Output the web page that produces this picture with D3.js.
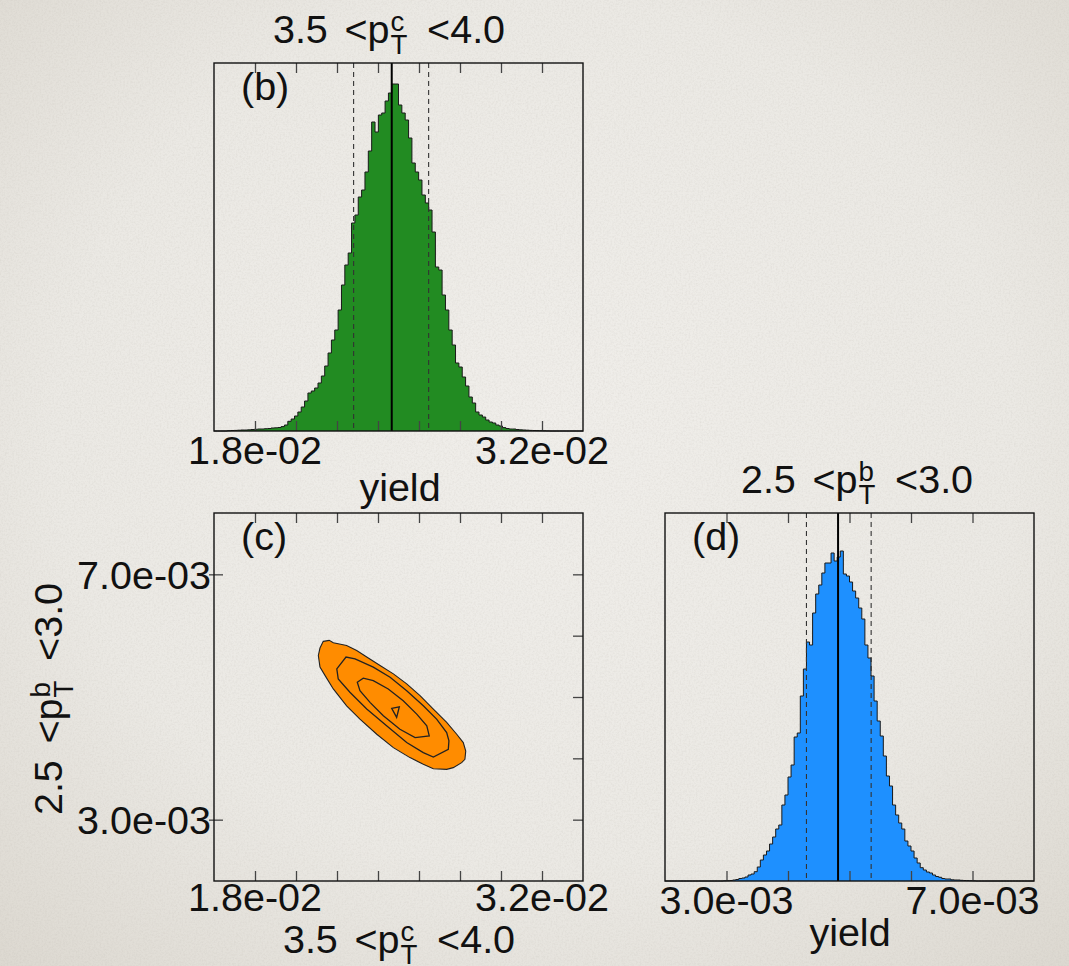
<!DOCTYPE html>
<html>
<head>
<meta charset="utf-8">
<script src="https://cdn.jsdelivr.net/npm/d3@7"></script>
<style>
  html, body { margin: 0; padding: 0; background: #eceae5; }
  svg { display: block; }
  text { font-family: "Liberation Sans", Arial, Helvetica, sans-serif; fill: #111; }
</style>
</head>
<body>
<svg id="fig" width="1069" height="966"></svg>
<script>
// ---- Posterior samples, charm yield 3.5 < pT < 4.0 (110 bins) ----
const charmRange = [0.016, 0.034];
const charmCounts = [
  0, 0, 0, 0, 3, 5, 6, 8, 10, 10,
  12, 15, 17, 20, 20, 23, 25, 30, 32, 35,
  44, 60, 97, 120, 150, 190, 240, 300, 380, 400,
  430, 480, 550, 650, 780, 910, 1010, 1210, 1460, 1660,
  1780, 2080, 2160, 2340, 2410, 2590, 2800, 3090, 2990, 3160,
  3180, 3300, 3380, 3470, 3470, 3260, 3180, 3110, 2930, 2680,
  2590, 2510, 2360, 2280, 2210, 1990, 1640, 1610, 1360, 1210,
  1010, 860, 680, 640, 540, 450, 340, 280, 190, 160,
  140, 110, 90, 80, 60, 50, 34, 25, 20, 20,
  15, 12, 10, 8, 6, 5, 4, 3, 2, 1,
  0, 0, 0, 0, 0, 0, 0, 0, 0, 0
];
const charmMedian = 0.02467;
const charmBand = [0.02281, 0.02647];
const charmTicks = [0.018, 0.020, 0.022, 0.024, 0.026, 0.028, 0.030, 0.032];
const charmLabels = [0.018, 0.032];

// ---- Posterior samples, bottom yield 2.5 < pT < 3.0 (120 bins) ----
const bottomRange = [0.002, 0.008];
const bottomCounts = [
  0, 0, 0, 0, 0, 0, 0, 0, 0, 0,
  0, 0, 0, 0, 0, 0, 0, 0, 0, 2,
  3, 5, 10, 15, 25, 30, 40, 60, 70, 93,
  140, 210, 260, 300, 370, 440, 520, 560, 760, 860,
  1040, 1160, 1440, 1480, 1850, 2120, 2390, 2360, 2680, 2870,
  2960, 3080, 3180, 3180, 3280, 3200, 3240, 3300, 3070, 3050,
  2990, 2900, 2830, 2730, 2620, 2360, 2230, 2050, 1800, 1600,
  1450, 1250, 1050, 950, 760, 660, 580, 520, 400, 350,
  300, 230, 180, 133, 110, 90, 80, 60, 45, 37,
  25, 20, 20, 12, 10, 10, 7, 5, 4, 3,
  2, 0, 0, 0, 0, 0, 0, 0, 0, 0,
  0, 0, 0, 0, 0, 0, 0, 0, 0, 0
];
const bottomMedian = 0.004814;
const bottomBand = [0.0043, 0.005352];
const bottomTicks = [0.003, 0.004, 0.005, 0.006, 0.007];
const bottomLabels = [0.003, 0.007];

const countMax = 3680;

// ---- Joint posterior contours (charm yield, bottom yield) ----
const contourOuter = [
  [0.02133, 0.005907], [0.02162, 0.005923], [0.02182, 0.005885], [0.02247, 0.005841],
  [0.02296, 0.005759], [0.02345, 0.005651], [0.02410, 0.005513], [0.02475, 0.005377],
  [0.02540, 0.005213], [0.02605, 0.005021], [0.02670, 0.004803], [0.02735, 0.004585],
  [0.02784, 0.004393], [0.02816, 0.004257], [0.02828, 0.004120], [0.02824, 0.003984],
  [0.02808, 0.003930], [0.02767, 0.003848], [0.02735, 0.003820], [0.02670, 0.003831],
  [0.02621, 0.003902], [0.02556, 0.004012], [0.02475, 0.004175], [0.02394, 0.004393],
  [0.02312, 0.004639], [0.02247, 0.004857], [0.02182, 0.005131], [0.02142, 0.005349],
  [0.02117, 0.005487], [0.02109, 0.005677], [0.02117, 0.005798]
];
const contourMiddle = [
  [0.02199, 0.005459], [0.02244, 0.005651], [0.02288, 0.005623], [0.02377, 0.005487],
  [0.02459, 0.005323], [0.02540, 0.005103], [0.02621, 0.004857], [0.02686, 0.004639],
  [0.02735, 0.004421], [0.02746, 0.004284], [0.02743, 0.004148], [0.02670, 0.004021],
  [0.02621, 0.004093], [0.02540, 0.004257], [0.02442, 0.004530], [0.02345, 0.004803],
  [0.02263, 0.005077], [0.02206, 0.005295]
];
const contourInner = [
  [0.02299, 0.005241], [0.02328, 0.005307], [0.02377, 0.005267], [0.02450, 0.005131],
  [0.02523, 0.004939], [0.02589, 0.004721], [0.02638, 0.004530], [0.02650, 0.004366],
  [0.02581, 0.004339], [0.02507, 0.004475], [0.02426, 0.004693], [0.02361, 0.004913],
  [0.02312, 0.005103]
];
const contourCore = [
  [0.02467, 0.004815], [0.02504, 0.004841], [0.02491, 0.004667]
];

// ---- Layout ----
const svg = d3.select("#fig");
const W = 1069, H = 966;
const panelB = { x: 214, y: 63, w: 369, h: 368 };
const panelC = { x: 214, y: 513, w: 369, h: 368 };
const panelD = { x: 665, y: 513, w: 369, h: 368 };
const FS = 39.5;

// paper background
const defs = svg.append("defs");
const rg = defs.append("radialGradient").attr("id", "vignette")
  .attr("cx", "50%").attr("cy", "45%").attr("r", "75%");
rg.append("stop").attr("offset", "0%").attr("stop-color", "#f0eeea");
rg.append("stop").attr("offset", "60%").attr("stop-color", "#ebe9e4");
rg.append("stop").attr("offset", "100%").attr("stop-color", "#dcd8d0");
const grain = defs.append("filter").attr("id", "grain").attr("x", 0).attr("y", 0).attr("width", "100%").attr("height", "100%");
grain.append("feTurbulence").attr("type", "fractalNoise").attr("baseFrequency", 0.55).attr("numOctaves", 3).attr("seed", 4);
grain.append("feColorMatrix").attr("type", "matrix")
  .attr("values", "0 0 0 0 0.45  0 0 0 0 0.42  0 0 0 0 0.38  0 0 0 -0.9 0.55");
svg.append("rect").attr("width", W).attr("height", H).attr("fill", "url(#vignette)");
svg.append("rect").attr("width", W).attr("height", H).attr("filter", "url(#grain)").attr("opacity", 0.35);

const fmtExp = v => {
  const [m, e] = v.toExponential(1).split("e");
  const sign = e[0] === "-" ? "-" : "+";
  return m + "e" + sign + String(Math.abs(+e)).padStart(2, "0");
};

// "lo < p_T^q < hi" label, centred on the group origin
function rangeLabel(g, lo, q, hi) {
  const small = FS * 0.7;
  let x = 0;
  const put = (str, size, dy) => {
    const t = g.append("text").attr("x", x).attr("y", dy).attr("font-size", size).text(str);
    return t.node().getComputedTextLength();
  };
  x += put(lo, FS, 0);
  x += FS * 0.42;
  x += put("<p", FS, 0);
  x += 1;
  const wT = put("T", small, FS * 0.27);
  const wq = put(q, small, -FS * 0.3);
  x += Math.max(wT, wq);
  x += FS * 0.5;
  x += put("<" + hi, FS, 0);
  g.selectAll("text").attr("transform", `translate(${-x / 2},0)`);
}

function frame(p) {
  svg.append("rect").attr("x", p.x).attr("y", p.y).attr("width", p.w).attr("height", p.h)
    .attr("fill", "none").attr("stroke", "#111").attr("stroke-width", 1.4);
}

function xTicks(p, x, ticks) {
  const gb = svg.append("g").attr("transform", `translate(0,${p.y + p.h})`)
    .call(d3.axisBottom(x).tickValues(ticks).tickSize(-10).tickFormat(""));
  const gt = svg.append("g").attr("transform", `translate(0,${p.y})`)
    .call(d3.axisTop(x).tickValues(ticks).tickSize(-10).tickFormat(""));
  [gb, gt].forEach(g => {
    g.select(".domain").remove();
    g.selectAll(".tick line").attr("stroke", "#444").attr("stroke-width", 1.3);
  });
}

function xLabels(p, x, vals, baseline) {
  vals.forEach(v => {
    svg.append("text").attr("x", x(v)).attr("y", baseline).attr("text-anchor", "middle")
      .attr("font-size", FS).text(fmtExp(v));
  });
}

function histogram(p, range, counts, fill, median, band, ticks, labels, tag) {
  const x = d3.scaleLinear().domain(range).range([p.x, p.x + p.w]);
  const y = d3.scaleLinear().domain([0, countMax]).range([p.y + p.h, p.y]);
  const bw = (range[1] - range[0]) / counts.length;
  const pts = counts.map((c, i) => ({ e: range[0] + i * bw, c }));
  pts.push({ e: range[1], c: counts[counts.length - 1] });
  const area = d3.area().curve(d3.curveStepAfter).x(d => x(d.e)).y0(y(0)).y1(d => y(d.c));
  const line = d3.line().curve(d3.curveStepAfter).x(d => x(d.e)).y(d => y(d.c));
  svg.append("path").attr("d", area(pts)).attr("fill", fill);
  svg.append("path").attr("d", line(pts)).attr("fill", "none")
    .attr("stroke", "#1a1a1a").attr("stroke-width", 1);
  band.forEach(v => {
    svg.append("line").attr("x1", x(v)).attr("x2", x(v)).attr("y1", p.y).attr("y2", p.y + p.h)
      .attr("stroke", "#333").attr("stroke-width", 1.1).attr("stroke-dasharray", "5,4");
  });
  svg.append("line").attr("x1", x(median)).attr("x2", x(median)).attr("y1", p.y).attr("y2", p.y + p.h)
    .attr("stroke", "#000").attr("stroke-width", 2);
  xTicks(p, x, ticks);
  frame(p);
  xLabels(p, x, labels, p.y + p.h + 33);
  svg.append("text").attr("x", p.x + 27).attr("y", p.y + 37).attr("font-size", FS).text(tag);
  return x;
}

// (b) charm yield
histogram(panelB, charmRange, charmCounts, "#228b22", charmMedian, charmBand, charmTicks, charmLabels, "(b)");
rangeLabel(svg.append("g").attr("transform", "translate(389,43)"), "3.5", "c", "4.0");
svg.append("text").attr("x", 400).attr("y", 501).attr("text-anchor", "middle").attr("font-size", FS).text("yield");

// (d) bottom yield
histogram(panelD, bottomRange, bottomCounts, "#1e90ff", bottomMedian, bottomBand, bottomTicks, bottomLabels, "(d)");
rangeLabel(svg.append("g").attr("transform", "translate(857,493)"), "2.5", "b", "3.0");
svg.append("text").attr("x", 850).attr("y", 946).attr("text-anchor", "middle").attr("font-size", FS).text("yield");

// (c) joint contours
{
  const p = panelC;
  const x = d3.scaleLinear().domain(charmRange).range([p.x, p.x + p.w]);
  const y = d3.scaleLinear().domain(bottomRange).range([p.y + p.h, p.y]);
  const ring = d3.line().curve(d3.curveLinearClosed).x(d => x(d[0])).y(d => y(d[1]));
  svg.append("path").attr("d", ring(contourOuter)).attr("fill", "#ff8c00")
    .attr("stroke", "#222").attr("stroke-width", 1.1);
  [contourMiddle, contourInner, contourCore].forEach(c => {
    svg.append("path").attr("d", ring(c)).attr("fill", "none")
      .attr("stroke", "#222").attr("stroke-width", 1.3);
  });
  xTicks(p, x, charmTicks);
  const gr = svg.append("g").attr("transform", `translate(${p.x + p.w},0)`)
    .call(d3.axisRight(y).tickValues(bottomTicks).tickSize(-10).tickFormat(""));
  gr.select(".domain").remove();
  gr.selectAll(".tick line").attr("stroke", "#444").attr("stroke-width", 1.3);
  const gl = svg.append("g").attr("transform", `translate(${p.x},0)`)
    .call(d3.axisLeft(y).tickValues(bottomLabels).tickSize(5).tickFormat(""));
  gl.select(".domain").remove();
  gl.selectAll(".tick line").attr("stroke", "#444").attr("stroke-width", 1.3).attr("x2", 9).attr("x1", -5);
  frame(p);
  xLabels(p, x, charmLabels, p.y + p.h + 30);
  bottomLabels.forEach(v => {
    svg.append("text").attr("x", p.x - 3).attr("y", y(v)).attr("dy", "0.36em")
      .attr("text-anchor", "end").attr("font-size", FS).text(fmtExp(v));
  });
  svg.append("text").attr("x", p.x + 27).attr("y", p.y + 37).attr("font-size", FS).text("(c)");
  rangeLabel(svg.append("g").attr("transform", "translate(399,953)"), "3.5", "c", "4.0");
  rangeLabel(svg.append("g").attr("transform", "translate(62,699) rotate(-90)"), "2.5", "b", "3.0");
}
</script>
</body>
</html>
